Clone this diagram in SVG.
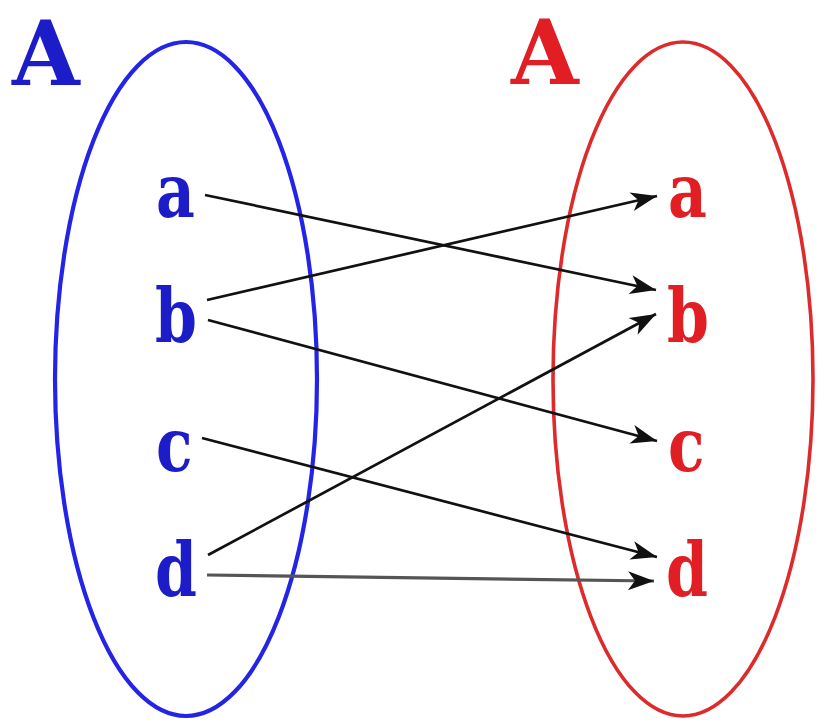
<svg xmlns="http://www.w3.org/2000/svg" width="820" height="720" viewBox="0 0 820 720">
<style>
.t{font-family:"DejaVu Serif","Liberation Serif",serif;font-weight:bold}
.big{font-size:90px}
.sm{font-size:75px}
.blue{fill:#1c1cc8}
.red{fill:#e01e24}
.ln{stroke:#111;stroke-width:2.7;fill:none;marker-end:url(#ah)}
</style>
<defs>
<marker id="ah" markerUnits="userSpaceOnUse" viewBox="-28 -11 30 22" refX="0" refY="0" markerWidth="30" markerHeight="22" orient="auto">
<path d="M0,0 L-26,-9.5 L-19,0 L-26,9.5 Z" fill="#111"/>
</marker>
</defs>
<rect width="820" height="720" fill="#fff"/>
<g id="setA-left">
<ellipse cx="186" cy="379" rx="131" ry="337" fill="none" stroke="#2424e6" stroke-width="4.2"/>
<text class="t big blue" transform="translate(12,85) scale(0.97,1)">A</text>
</g>
<g id="setA-right">
<ellipse cx="683" cy="379" rx="130" ry="337" fill="none" stroke="#dd2a2a" stroke-width="3.6"/>
<text class="t big red" transform="translate(511,84) scale(0.97,1)">A</text>
</g>
<g id="left-a"><text class="t sm blue" transform="translate(156,217) scale(0.8,1)">a</text></g>
<g id="left-b"><text class="t sm blue" transform="translate(155,342) scale(0.8,1)">b</text></g>
<g id="left-c"><text class="t sm blue" transform="translate(156,471) scale(0.8,1)">c</text></g>
<g id="left-d"><text class="t sm blue" transform="translate(155,596) scale(0.8,1)">d</text></g>
<g id="right-a"><text class="t sm red" transform="translate(668,217) scale(0.8,1)">a</text></g>
<g id="right-b"><text class="t sm red" transform="translate(667,342) scale(0.8,1)">b</text></g>
<g id="right-c"><text class="t sm red" transform="translate(668,471) scale(0.8,1)">c</text></g>
<g id="right-d"><text class="t sm red" transform="translate(666,596) scale(0.8,1)">d</text></g>
<g id="connectors">
<line class="ln" x1="205" y1="195" x2="656" y2="290"/>
<line class="ln" x1="207" y1="300" x2="657" y2="196"/>
<line class="ln" x1="208" y1="320" x2="657" y2="441"/>
<line class="ln" x1="202" y1="438" x2="657" y2="557"/>
<line class="ln" x1="208" y1="555" x2="656" y2="314"/>
<line class="ln" x1="207" y1="575" x2="654" y2="581" style="stroke:#555;stroke-width:3.2"/>
</g>
</svg>
